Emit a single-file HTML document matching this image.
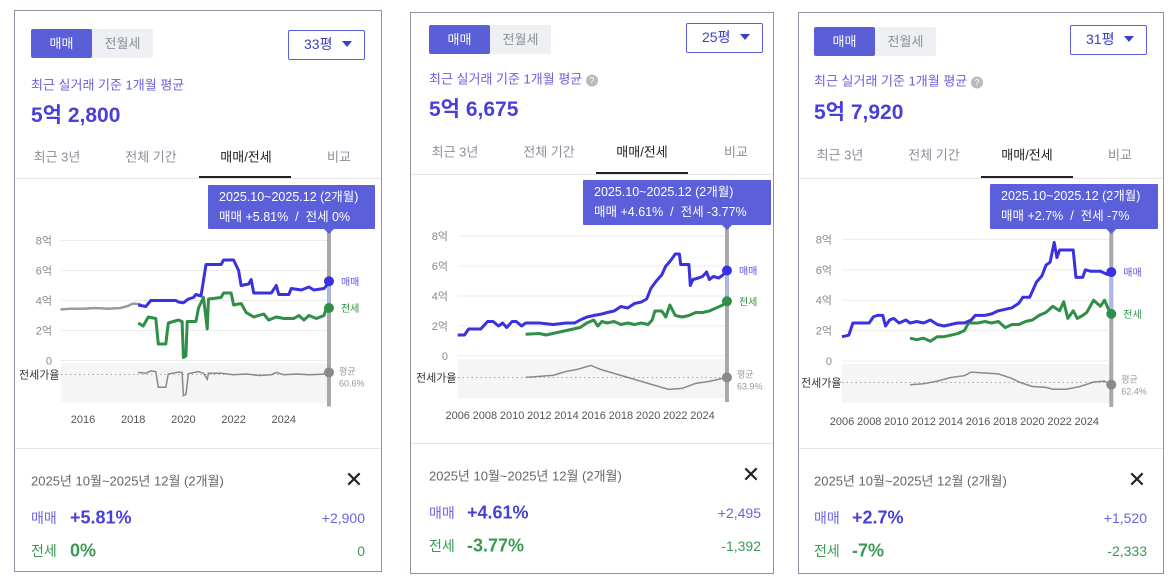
<!DOCTYPE html>
<html><head><meta charset="utf-8">
<style>
*{margin:0;padding:0;box-sizing:border-box}
body{width:1173px;height:585px;background:#fff;position:relative;overflow:hidden;font-family:"Liberation Sans","Noto Sans CJK KR",sans-serif}
.panel{position:absolute;border:1px solid #8d95a5;background:#fff;height:562px;top:12px}
.abs{position:absolute;white-space:nowrap}
.tog{position:absolute;height:29px;width:122px;background:#eef0f3;border-radius:2px}
.tog .a{position:absolute;left:0;top:0;width:61px;height:29px;background:#5a5fd8;color:#fff;font-size:13px;line-height:29px;text-align:center;border-radius:2px}
.tog .b{position:absolute;left:61px;top:0;width:61px;height:29px;color:#8a8f99;font-size:13px;line-height:29px;text-align:center}
.dd{position:absolute;width:77px;height:30px;border:1.5px solid #5a5fd8;border-radius:2px;font-size:14px;color:#3b3fc9;line-height:27px;padding-left:15px}
.dd::after{content:"";position:absolute;right:12px;top:10px;border-left:5px solid transparent;border-right:5px solid transparent;border-top:6px solid #3b3fc9}
.sub{font-size:13px;color:#6a5fdc;transform:translateY(-50%)}
.price{font-size:21px;font-weight:bold;color:#4a3fd6;transform:translateY(-50%)}
.tab{font-size:13px;color:#8a8f99;transform:translate(-50%,-50%)}
.tab.on{color:#222}
.tip{position:absolute;background:#5b5fd9;color:#fff;font-size:12.5px;line-height:20px;padding:2px 0 0 11px;border-radius:1px}
.date{font-size:13px;color:#666;transform:translateY(-50%)}
.lab{font-size:14px;transform:translateY(-50%)}
.big{font-size:18px;font-weight:bold;transform:translateY(-50%)}
.rv{font-size:14px;transform:translateY(-50%)}
.x{font-size:22px;color:#222;transform:translate(-50%,-50%)}
svg{position:absolute;left:0;top:0}
</style></head><body>

<div class="panel" id="p1" style="left:14px;top:10px;width:368px">
 <div class="tog" style="left:16px;top:18px"><div class="a">매매</div><div class="b">전월세</div></div>
 <div class="dd" style="left:273px;top:19px">33평</div>
 <div class="abs sub" style="left:16px;top:73px">최근 실거래 기준 1개월 평균</div>
 <div class="abs price" style="left:16px;top:103px">5억 2,800</div>
 <div class="abs tab" style="left:42px;top:145px">최근 3년</div>
 <div class="abs tab" style="left:136px;top:145px">전체 기간</div>
 <div class="abs tab on" style="left:231px;top:145px">매매/전세</div>
 <div class="abs tab" style="left:324px;top:145px">비교</div>
 <div class="abs" style="left:0;top:167px;width:366px;height:1px;background:#e6e6e6"></div>
 <div class="abs" style="left:184px;top:165px;width:92px;height:2px;background:#222"></div>
 <svg id="s1" width="366" height="560"></svg>
 <div class="tip" style="left:193px;top:174px;width:167px;height:44px">2025.10~2025.12 (2개월)<br>매매 +5.81% &nbsp;/&nbsp; 전세 0%</div>
 <div class="abs" style="left:0;top:437px;width:366px;height:1px;background:#e6e6e6"></div>
 <div class="abs date" style="left:16px;top:469px">2025년 10월~2025년 12월 (2개월)</div>
 <div class="abs x" style="left:339px;top:469px">✕</div>
 <div class="abs lab" style="left:16px;top:507px;color:#6a63e0">매매</div>
 <div class="abs big" style="left:55px;top:507px;color:#4a3fd6">+5.81%</div>
 <div class="abs rv" style="right:16px;top:507px;color:#6a63e0">+2,900</div>
 <div class="abs lab" style="left:16px;top:540px;color:#3a9a55">전세</div>
 <div class="abs big" style="left:55px;top:540px;color:#3a9a55">0%</div>
 <div class="abs rv" style="right:16px;top:540px;color:#3a9a55">0</div>
</div>

<div class="panel" id="p2" style="left:410px;width:364px">
 <div class="tog" style="left:18px;top:12px"><div class="a">매매</div><div class="b">전월세</div></div>
 <div class="dd" style="left:275px;top:10px">25평</div>
 <div class="abs sub" style="left:18px;top:65px">최근 실거래 기준 1개월 평균 <span style="display:inline-block;width:12px;height:12px;border-radius:6px;background:#bbb;color:#fff;font-size:9px;line-height:12px;text-align:center">?</span></div>
 <div class="abs price" style="left:18px;top:95px">5억 6,675</div>
 <div class="abs tab" style="left:44px;top:138px">최근 3년</div>
 <div class="abs tab" style="left:138px;top:138px">전체 기간</div>
 <div class="abs tab on" style="left:231px;top:138px">매매/전세</div>
 <div class="abs tab" style="left:325px;top:138px">비교</div>
 <div class="abs" style="left:0;top:161px;width:362px;height:1px;background:#e6e6e6"></div>
 <div class="abs" style="left:185px;top:159px;width:92px;height:2px;background:#222"></div>
 <svg id="s2" width="362" height="560"></svg>
 <div class="tip" style="left:172px;top:167px;width:188px;height:45px">2025.10~2025.12 (2개월)<br>매매 +4.61% &nbsp;/&nbsp; 전세 -3.77%</div>
 <div class="abs" style="left:0;top:430px;width:362px;height:1px;background:#e6e6e6"></div>
 <div class="abs date" style="left:18px;top:462px">2025년 10월~2025년 12월 (2개월)</div>
 <div class="abs x" style="left:340px;top:462px">✕</div>
 <div class="abs lab" style="left:18px;top:500px;color:#6a63e0">매매</div>
 <div class="abs big" style="left:56px;top:500px;color:#4a3fd6">+4.61%</div>
 <div class="abs rv" style="right:12px;top:500px;color:#6a63e0">+2,495</div>
 <div class="abs lab" style="left:18px;top:533px;color:#3a9a55">전세</div>
 <div class="abs big" style="left:56px;top:533px;color:#3a9a55">-3.77%</div>
 <div class="abs rv" style="right:12px;top:533px;color:#3a9a55">-1,392</div>
</div>

<div class="panel" id="p3" style="left:798px;width:366px">
 <div class="tog" style="left:15px;top:14px"><div class="a">매매</div><div class="b">전월세</div></div>
 <div class="dd" style="left:271px;top:12px">31평</div>
 <div class="abs sub" style="left:15px;top:67px">최근 실거래 기준 1개월 평균 <span style="display:inline-block;width:12px;height:12px;border-radius:6px;background:#bbb;color:#fff;font-size:9px;line-height:12px;text-align:center">?</span></div>
 <div class="abs price" style="left:15px;top:98px">5억 7,920</div>
 <div class="abs tab" style="left:41px;top:141px">최근 3년</div>
 <div class="abs tab" style="left:135px;top:141px">전체 기간</div>
 <div class="abs tab on" style="left:228px;top:141px">매매/전세</div>
 <div class="abs tab" style="left:321px;top:141px">비교</div>
 <div class="abs" style="left:0;top:165px;width:364px;height:1px;background:#e6e6e6"></div>
 <div class="abs" style="left:182px;top:163px;width:92px;height:2px;background:#222"></div>
 <svg id="s3" width="364" height="560"></svg>
 <div class="tip" style="left:191px;top:171px;width:168px;height:45px">2025.10~2025.12 (2개월)<br>매매 +2.7% &nbsp;/&nbsp; 전세 -7%</div>
 <div class="abs" style="left:0;top:435px;width:364px;height:1px;background:#e6e6e6"></div>
 <div class="abs date" style="left:15px;top:467px">2025년 10월~2025년 12월 (2개월)</div>
 <div class="abs x" style="left:338px;top:467px">✕</div>
 <div class="abs lab" style="left:15px;top:505px;color:#6a63e0">매매</div>
 <div class="abs big" style="left:53px;top:505px;color:#4a3fd6">+2.7%</div>
 <div class="abs rv" style="right:16px;top:505px;color:#6a63e0">+1,520</div>
 <div class="abs lab" style="left:15px;top:538px;color:#3a9a55">전세</div>
 <div class="abs big" style="left:53px;top:538px;color:#3a9a55">-7%</div>
 <div class="abs rv" style="right:16px;top:538px;color:#3a9a55">-2,333</div>
</div>

<script>
// ---- shared axis data ----
const Y_TICKS=[0,2,4,6,8];
const Y_LABELS=['0','2억','4억','6억','8억'];
const P1_X_TICKS=[2016,2018,2020,2022,2024];
const P23_X_TICKS=[2006,2008,2010,2012,2014,2016,2018,2020,2022,2024];

// ---- panel 1 (33평) ----
const P1_PRE_YEARS=[2015.1,2015.5,2016,2016.5,2017,2017.5,2017.8,2018,2018.3];
const P1_PRE=[3.4,3.45,3.45,3.5,3.45,3.5,3.65,3.8,3.75];
const P1_SALE_YEARS=[2018.2,2018.5,2018.7,2019.7,2019.8,2020.0,2020.2,2020.4,2020.5,2020.7,2020.9,2021.5,2021.6,2022.0,2022.2,2022.3,2022.6,2022.7,2022.8,2023.5,2023.7,2023.8,2024.2,2024.3,2024.7,2025.0,2025.2,2025.6,2025.7,2025.8];
const P1_SALE=[3.7,3.6,4.0,4.0,3.9,3.85,4.1,4.2,4.4,4.3,6.4,6.4,6.7,6.7,6.0,5.0,5.1,5.4,4.5,4.5,5.0,4.4,4.4,4.8,4.7,4.9,4.7,4.8,5.0,5.28];
const P1_JEON_YEARS=[2018.2,2018.4,2018.6,2018.9,2019.0,2019.3,2019.4,2019.8,2019.95,2020.0,2020.1,2020.15,2020.5,2020.6,2020.8,2020.95,2021.0,2021.5,2021.6,2021.9,2022.0,2022.3,2022.5,2022.8,2023.2,2023.4,2023.7,2024.0,2024.4,2024.6,2024.8,2025.0,2025.3,2025.6,2025.7,2025.8];
const P1_JEON=[2.5,2.3,2.9,2.8,1.1,1.1,2.5,2.7,2.6,0.2,0.3,2.6,2.6,3.5,4.2,2.1,4.1,4.2,4.5,4.5,3.7,3.8,3.2,2.9,3.1,2.7,2.9,2.8,2.8,3.0,2.7,3.0,2.8,3.0,3.5,3.5];
const P1_RATIO_YEARS=[2018.2,2018.5,2018.7,2018.9,2019.0,2019.3,2019.4,2019.8,2019.95,2020.0,2020.1,2020.2,2020.6,2020.8,2020.95,2021.0,2021.5,2022.0,2022.5,2023.0,2023.5,2023.7,2024.0,2024.5,2025.0,2025.5,2025.8];
const P1_RATIO=[66,64,70,68,27,27,62,67,66,5,8,63,68,64,48,64,64,60,62,58,60,66,60,62,60,61,66];
const P1_AVG=60.6;

// ---- panel 2 (25평) ----
const P2_SALE_YEARS=[2006.0,2006.5,2006.8,2007.3,2007.7,2008.2,2008.6,2009.0,2009.3,2009.6,2010.0,2010.3,2010.7,2011.0,2012.0,2013.0,2014.0,2014.6,2015.0,2015.5,2016.0,2016.6,2017.0,2017.5,2018.0,2018.5,2019.0,2019.5,2019.9,2020.2,2020.6,2021.0,2021.3,2021.6,2022.0,2022.3,2022.4,2023.0,2023.1,2023.3,2023.7,2024.0,2024.3,2024.5,2024.8,2025.2,2025.5,2025.8];
const P2_SALE=[1.4,1.4,1.8,1.8,1.8,2.3,2.3,2.0,2.2,1.9,2.3,2.3,2.0,2.2,2.2,2.1,2.2,2.2,2.4,2.6,2.7,2.8,2.9,3.0,3.3,3.2,3.5,3.6,3.8,4.5,5.0,5.4,6.0,6.3,6.8,6.8,6.1,6.1,4.7,5.1,5.2,5.3,5.6,5.1,5.3,5.2,5.4,5.7];
const P2_JEON_YEARS=[2011.0,2012.0,2012.5,2013.0,2013.5,2014.0,2014.5,2015.0,2015.5,2016.0,2016.3,2016.6,2017.0,2017.5,2018.0,2018.5,2019.0,2019.5,2020.0,2020.3,2020.5,2021.0,2021.3,2021.6,2022.0,2022.5,2023.0,2023.5,2024.0,2024.5,2025.0,2025.5,2025.8];
const P2_JEON=[1.45,1.5,1.4,1.5,1.6,1.7,1.8,1.9,2.2,2.4,2.0,2.3,2.2,2.3,2.1,2.2,2.1,2.2,2.1,2.4,3.0,3.0,2.6,3.4,2.7,2.6,2.7,2.9,2.9,3.0,3.2,3.4,3.65];
const P2_RATIO_YEARS=[2011,2012,2013,2014,2014.8,2015.8,2016.5,2017,2018,2019,2020,2020.5,2021.5,2022.5,2023.5,2024.5,2025.8];
const P2_RATIO=[64,65,66,70,72,76,72,70,66,62,58,56,52,53,58,60,64];
const P2_AVG=63.9;

// ---- panel 3 (31평) ----
const P3_SALE_YEARS=[2006.0,2006.5,2006.8,2007.5,2008.0,2008.3,2008.6,2009.0,2009.2,2009.5,2009.8,2010.2,2010.7,2011.0,2011.5,2012.0,2012.5,2013.0,2013.5,2014.0,2014.5,2015.0,2015.5,2015.8,2016.5,2017.0,2017.5,2018.0,2018.5,2019.0,2019.3,2019.8,2020.3,2020.7,2021.0,2021.3,2021.6,2021.8,2022.0,2023.0,2023.2,2023.7,2023.9,2024.3,2025.0,2025.5,2025.8];
const P3_SALE=[1.6,1.7,2.5,2.5,2.5,2.9,3.0,3.0,2.3,2.7,2.8,2.5,2.7,2.5,2.6,2.5,2.7,2.4,2.3,2.4,2.5,2.5,2.7,3.0,3.0,3.1,3.3,3.4,3.5,3.8,4.2,4.2,5.2,5.6,6.3,6.5,7.8,6.8,7.3,7.3,5.5,5.5,6.0,5.9,5.9,5.7,5.85];
const P3_JEON_YEARS=[2011.0,2011.5,2012.0,2012.5,2013.0,2013.5,2014.0,2014.5,2015.0,2015.3,2016.0,2016.5,2017.0,2017.5,2018.0,2018.5,2019.0,2019.5,2020.0,2020.5,2021.0,2021.5,2022.0,2022.3,2022.6,2023.0,2023.3,2023.7,2024.0,2024.5,2025.0,2025.3,2025.6,2025.8];
const P3_JEON=[1.5,1.4,1.5,1.3,1.6,1.6,1.7,1.8,2.0,2.5,2.5,2.6,2.5,2.6,2.2,2.4,2.4,2.6,2.7,3.0,3.2,3.6,3.3,3.9,2.8,3.3,2.8,3.0,3.2,4.0,3.6,4.0,3.4,3.1];
const P3_RATIO_YEARS=[2011,2012,2013,2014,2015,2015.5,2016.5,2017.5,2018.5,2019,2020,2021,2021.5,2022.5,2023.5,2024.5,2025.3,2025.8];
const P3_RATIO=[60,61,64,68,70,74,73,72,67,63,58,57,55,55,58,63,64,60];
const P3_AVG=62.4;

const NS='http://www.w3.org/2000/svg';
function mk(svg,tag,attrs){const e=document.createElementNS(NS,tag);for(const k in attrs)e.setAttribute(k,attrs[k]);svg.appendChild(e);return e;}
function sx(c,yr){return c.x0+(yr-c.yr0)*c.px;}
function sy(c,v){return c.zero-v*c.eok;}
function ry(c,r,avg){return c.mid-(r-avg)*c.k;}
function pathD(c,xs,vs,fy){return xs.map((x,i)=>(i?'L':'M')+sx(c,x).toFixed(1)+','+fy(vs[i]).toFixed(1)).join(' ');}

function draw(id,c,d){
  const svg=document.getElementById(id);
  const ex=sx(c,c.endYr);
  let el=mk(svg,'rect',{x:c.gx,y:c.zero+3,width:ex-c.gx,height:39,fill:'#f5f5f6'});
  
  
  Y_TICKS.forEach((t,i)=>{
    let g=mk(svg,'line',{x1:c.gx,x2:ex,y1:sy(c,t),y2:sy(c,t),stroke:'#ececec','stroke-width':1});
    
    
    let tx=mk(svg,'text',{x:c.lx,y:sy(c,t)+4,'text-anchor':'end','font-size':11,fill:'#888'});
    tx.textContent=Y_LABELS[i];
    
    
  });
  d.xt.forEach(t=>{
    let tx=mk(svg,'text',{x:sx(c,t),y:c.xly,'text-anchor':'middle','font-size':11,fill:'#555'});
    tx.textContent=t;
    
    
  });
  let rl=mk(svg,'text',{x:c.rlx,y:c.mid+4,'font-size':11,fill:'#333'});
  rl.textContent='전세가율';
  
  
  let dl=mk(svg,'line',{x1:c.gx,x2:ex,y1:c.mid,y2:c.mid,stroke:'#aaa','stroke-dasharray':'1.5 3'});
  
  
  let vl=mk(svg,'rect',{x:ex-2,y:c.vTop,width:4,height:c.zero+46-c.vTop,fill:'#a9a9ad'});
  
  
  let tri=mk(svg,'path',{d:`M${ex-5},${c.vTop} L${ex+5},${c.vTop} L${ex},${c.vTop+5}Z`,fill:'#5b5fd9'});
  
  
  if(d.pre){
    let p=mk(svg,'path',{d:pathD(c,d.preY,d.pre,v=>sy(c,v)),fill:'none',stroke:'#9a9a9a','stroke-width':2.5});
    
    
  }
  let rp=mk(svg,'path',{d:pathD(c,d.rY,d.r,v=>ry(c,v,d.avg)),fill:'none',stroke:'#8a8a8a','stroke-width':1.5});
  
  
  let jp=mk(svg,'path',{d:pathD(c,d.jY,d.j,v=>sy(c,v)),fill:'none',stroke:'#2f8f47','stroke-width':3,'stroke-linejoin':'round'});
  
  
  let sp=mk(svg,'path',{d:pathD(c,d.sY,d.s,v=>sy(c,v)),fill:'none',stroke:'#3a32e0','stroke-width':3,'stroke-linejoin':'round'});
  
  
  const sv=sy(c,d.s[d.s.length-1]), jv=sy(c,d.j[d.j.length-1]), rv=ry(c,d.r[d.r.length-1],d.avg);
  let gap=mk(svg,'line',{x1:ex,x2:ex,y1:sv,y2:jv,stroke:'#a8b8f0','stroke-width':3});
  
  
  let d1=mk(svg,'circle',{cx:ex,cy:sv,r:5,fill:'#3a32e0'});
  
  
  let d2=mk(svg,'circle',{cx:ex,cy:jv,r:5,fill:'#2f8f47'});
  
  
  let d3=mk(svg,'circle',{cx:ex,cy:rv,r:5,fill:'#8a8a8a'});
  
  
  let t1=mk(svg,'text',{x:ex+12,y:sv+4,'font-size':10,fill:'#5a55e0'});t1.textContent='매매';
  
  
  let t2=mk(svg,'text',{x:ex+12,y:jv+4,'font-size':10,fill:'#2f8f47'});t2.textContent='전세';
  
  
  let t3=mk(svg,'text',{x:ex+10,y:c.mid,'font-size':9,fill:'#999'});t3.textContent='평균';
  
  
  let t4=mk(svg,'text',{x:ex+10,y:c.mid+12,'font-size':9,fill:'#999'});t4.textContent=d.avg.toFixed(1)+'%';
  
  
}

draw('s1',{x0:68,yr0:2016,px:25.1,zero:349.5,eok:15,mid:363.5,k:0.38,endYr:2025.8,gx:46,lx:37,xly:412,rlx:4,vTop:218},
  {xt:P1_X_TICKS,pre:P1_PRE,preY:P1_PRE_YEARS,sY:P1_SALE_YEARS,s:P1_SALE,jY:P1_JEON_YEARS,j:P1_JEON,rY:P1_RATIO_YEARS,r:P1_RATIO,avg:P1_AVG});
draw('s2',{x0:46.7,yr0:2006,px:13.6,zero:343,eok:15,mid:364.5,k:1.0,endYr:2025.8,gx:47,lx:37,xly:406,rlx:5,vTop:212},
  {xt:P23_X_TICKS,sY:P2_SALE_YEARS,s:P2_SALE,jY:P2_JEON_YEARS,j:P2_JEON,rY:P2_RATIO_YEARS,r:P2_RATIO,avg:P2_AVG});
draw('s3',{x0:43,yr0:2006,px:13.6,zero:348,eok:15.2,mid:369.5,k:0.9,endYr:2025.8,gx:43,lx:33,xly:412,rlx:2,vTop:216},
  {xt:P23_X_TICKS,sY:P3_SALE_YEARS,s:P3_SALE,jY:P3_JEON_YEARS,j:P3_JEON,rY:P3_RATIO_YEARS,r:P3_RATIO,avg:P3_AVG});
</script>
</body></html>
